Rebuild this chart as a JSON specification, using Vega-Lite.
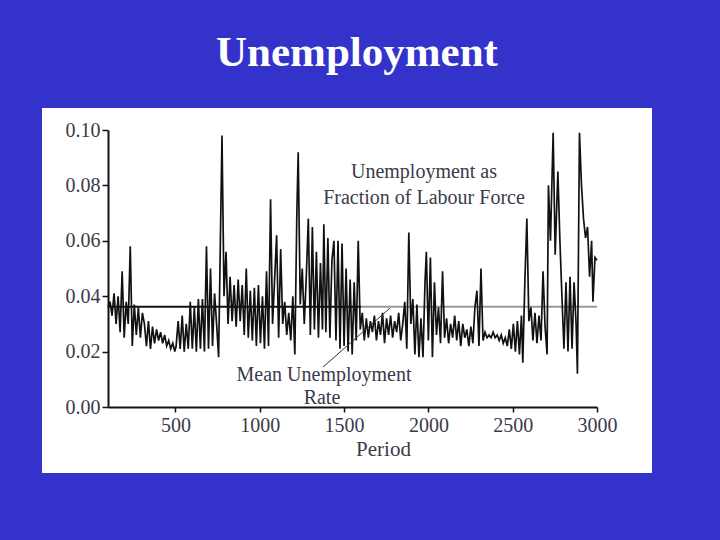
{
  "$schema": "https://vega.github.io/schema/vega-lite/v6.json",
  "width": 610,
  "height": 365,
  "autosize": {"type": "none"},
  "padding": {"left": 42, "top": 108, "right": 68, "bottom": 67},
  "background": "#3333cc",
  "title": {
    "text": "Unemployment",
    "font": "Liberation Serif",
    "fontSize": 43,
    "fontWeight": "bold",
    "color": "white",
    "anchor": "middle",
    "dx": 10,
    "offset": 33
  },
  "config": {
    "view": {"fill": "white", "stroke": null}
  },
  "datasets": {
    "series": [
      {"period":100,"value":0.036},{"period":112,"value":0.038},{"period":124,"value":0.033},{"period":136,"value":0.041},{"period":148,"value":0.030},{"period":160,"value":0.040},{"period":172,"value":0.027},{"period":184,"value":0.049},{"period":196,"value":0.025},{"period":208,"value":0.038},{"period":220,"value":0.030},{"period":232,"value":0.058},{"period":244,"value":0.022},{"period":256,"value":0.037},{"period":268,"value":0.026},{"period":280,"value":0.036},{"period":292,"value":0.025},{"period":304,"value":0.034},{"period":316,"value":0.030},{"period":328,"value":0.022},{"period":340,"value":0.031},{"period":352,"value":0.021},{"period":364,"value":0.029},{"period":376,"value":0.023},{"period":388,"value":0.028},{"period":400,"value":0.024},{"period":412,"value":0.027},{"period":424,"value":0.023},{"period":436,"value":0.026},{"period":448,"value":0.022},{"period":460,"value":0.024},{"period":472,"value":0.021},{"period":484,"value":0.023},{"period":496,"value":0.020},
      {"period":504,"value":0.022},{"period":516,"value":0.031},{"period":528,"value":0.021},{"period":540,"value":0.033},{"period":552,"value":0.020},{"period":564,"value":0.030},{"period":576,"value":0.021},{"period":588,"value":0.038},{"period":600,"value":0.021},{"period":612,"value":0.036},{"period":624,"value":0.020},{"period":636,"value":0.039},{"period":648,"value":0.021},{"period":660,"value":0.039},{"period":672,"value":0.020},{"period":684,"value":0.058},{"period":696,"value":0.021},{"period":708,"value":0.050},{"period":720,"value":0.022},{"period":732,"value":0.041},{"period":744,"value":0.030},{"period":756,"value":0.018},{"period":768,"value":0.066},{"period":776,"value":0.098},{"period":788,"value":0.040},{"period":800,"value":0.056},{"period":812,"value":0.030},{"period":824,"value":0.047},{"period":836,"value":0.031},{"period":848,"value":0.044},{"period":860,"value":0.029},{"period":872,"value":0.046},{"period":884,"value":0.031},{"period":896,"value":0.044},{"period":908,"value":0.026},{"period":920,"value":0.050},{"period":932,"value":0.025},
      {"period":944,"value":0.042},{"period":956,"value":0.024},{"period":968,"value":0.043},{"period":980,"value":0.022},{"period":992,"value":0.044},{"period":1004,"value":0.023},{"period":1016,"value":0.040},{"period":1028,"value":0.021},{"period":1040,"value":0.049},{"period":1052,"value":0.022},{"period":1064,"value":0.075},{"period":1076,"value":0.030},{"period":1088,"value":0.046},{"period":1100,"value":0.062},{"period":1112,"value":0.025},{"period":1124,"value":0.057},{"period":1136,"value":0.030},{"period":1148,"value":0.038},{"period":1160,"value":0.026},{"period":1172,"value":0.034},{"period":1184,"value":0.024},{"period":1196,"value":0.040},{"period":1208,"value":0.019},{"period":1220,"value":0.070},{"period":1228,"value":0.092},{"period":1240,"value":0.037},{"period":1252,"value":0.050},{"period":1264,"value":0.030},{"period":1276,"value":0.047},{"period":1288,"value":0.068},{"period":1300,"value":0.026},{"period":1312,"value":0.065},{"period":1324,"value":0.028},{"period":1336,"value":0.056},
      {"period":1348,"value":0.025},{"period":1360,"value":0.052},{"period":1372,"value":0.028},{"period":1380,"value":0.066},{"period":1392,"value":0.027},{"period":1404,"value":0.061},{"period":1416,"value":0.025},{"period":1428,"value":0.053},{"period":1440,"value":0.060},{"period":1452,"value":0.024},{"period":1464,"value":0.060},{"period":1476,"value":0.021},{"period":1488,"value":0.059},{"period":1500,"value":0.022},{"period":1512,"value":0.050},{"period":1524,"value":0.020},{"period":1536,"value":0.046},{"period":1548,"value":0.019},{"period":1560,"value":0.045},{"period":1572,"value":0.024},{"period":1584,"value":0.060},{"period":1596,"value":0.028},{"period":1608,"value":0.034},{"period":1620,"value":0.024},{"period":1632,"value":0.032},{"period":1644,"value":0.025},{"period":1656,"value":0.031},{"period":1668,"value":0.027},{"period":1680,"value":0.033},{"period":1692,"value":0.024},{"period":1704,"value":0.031},{"period":1716,"value":0.026},{"period":1728,"value":0.034},{"period":1740,"value":0.023},{"period":1752,"value":0.032},{"period":1764,"value":0.026},
      {"period":1776,"value":0.033},{"period":1788,"value":0.025},{"period":1800,"value":0.031},{"period":1812,"value":0.027},{"period":1824,"value":0.034},{"period":1836,"value":0.024},{"period":1848,"value":0.030},{"period":1860,"value":0.038},{"period":1872,"value":0.021},{"period":1884,"value":0.063},{"period":1896,"value":0.030},{"period":1908,"value":0.039},{"period":1920,"value":0.019},{"period":1932,"value":0.037},{"period":1944,"value":0.018},{"period":1956,"value":0.032},{"period":1968,"value":0.018},{"period":1980,"value":0.045},{"period":1988,"value":0.056},{"period":2000,"value":0.024},{"period":2012,"value":0.054},{"period":2024,"value":0.018},{"period":2036,"value":0.045},{"period":2048,"value":0.026},{"period":2060,"value":0.036},{"period":2072,"value":0.023},{"period":2084,"value":0.049},{"period":2096,"value":0.025},{"period":2108,"value":0.032},{"period":2120,"value":0.023},{"period":2132,"value":0.030},{"period":2144,"value":0.025},{"period":2156,"value":0.033},
      {"period":2168,"value":0.024},{"period":2180,"value":0.031},{"period":2192,"value":0.022},{"period":2204,"value":0.030},{"period":2216,"value":0.025},{"period":2228,"value":0.028},{"period":2240,"value":0.022},{"period":2252,"value":0.029},{"period":2264,"value":0.023},{"period":2276,"value":0.036},{"period":2288,"value":0.042},{"period":2300,"value":0.022},{"period":2312,"value":0.050},{"period":2324,"value":0.024},{"period":2336,"value":0.027},{"period":2348,"value":0.025},{"period":2360,"value":0.026},{"period":2372,"value":0.025},{"period":2384,"value":0.027},{"period":2396,"value":0.025},{"period":2408,"value":0.026},{"period":2420,"value":0.024},{"period":2432,"value":0.026},{"period":2444,"value":0.023},{"period":2456,"value":0.025},{"period":2468,"value":0.022},{"period":2480,"value":0.028},{"period":2492,"value":0.021},{"period":2504,"value":0.030},{"period":2516,"value":0.020},{"period":2528,"value":0.031},{"period":2540,"value":0.019},{"period":2552,"value":0.033},{"period":2560,"value":0.016},{"period":2572,"value":0.045},{"period":2584,"value":0.068},
      {"period":2596,"value":0.031},{"period":2608,"value":0.036},{"period":2620,"value":0.024},{"period":2632,"value":0.034},{"period":2644,"value":0.023},{"period":2656,"value":0.033},{"period":2668,"value":0.024},{"period":2680,"value":0.049},{"period":2692,"value":0.029},{"period":2704,"value":0.019},{"period":2712,"value":0.080},{"period":2724,"value":0.060},{"period":2740,"value":0.099},{"period":2752,"value":0.055},{"period":2768,"value":0.085},{"period":2780,"value":0.060},{"period":2792,"value":0.040},{"period":2804,"value":0.021},{"period":2816,"value":0.045},{"period":2828,"value":0.020},{"period":2840,"value":0.047},{"period":2852,"value":0.021},{"period":2864,"value":0.045},{"period":2876,"value":0.030},{"period":2884,"value":0.012},{"period":2896,"value":0.099},{"period":2908,"value":0.080},{"period":2920,"value":0.068},{"period":2932,"value":0.061},{"period":2944,"value":0.065},{"period":2956,"value":0.047},{"period":2968,"value":0.060},{"period":2976,"value":0.038},{"period":2988,"value":0.054},{"period":3000,"value":0.053}
    ],
    "mean": [
      {"period":100,"period2":1600,"value":0.0362,"part":"left"},
      {"period":1600,"period2":3000,"value":0.0362,"part":"right"}
    ],
    "leader": [
      {"period":1375,"value":0.0144,"period2":1772,"value2":0.0357}
    ],
    "notes": [
      {"period":1974,"value":0.0848,"label":"Unemployment as"},
      {"period":1974,"value":0.0755,"label":"Fraction of Labour Force"},
      {"period":1381,"value":0.01155,"label":"Mean Unemployment"},
      {"period":1369,"value":0.00325,"label":"Rate"}
    ]
  },
  "layer": [
    {
      "data": {"name": "mean"},
      "mark": {"type": "rule", "strokeWidth": 2},
      "encoding": {
        "x": {
          "field": "period", "type": "quantitative",
          "scale": {"domain": [100, 3000], "range": [66, 555], "nice": false, "zero": false},
          "axis": {
            "title": "Period", "values": [500, 1000, 1500, 2000, 2500, 3000], "format": "d", "offset": -66,
            "grid": false, "domainColor": "#111111", "domainWidth": 2, "tickColor": "#111111", "tickWidth": 1.5, "tickSize": 5,
            "labelFont": "Liberation Serif", "labelFontSize": 20, "labelColor": "#3a3a4a", "labelPadding": 3, "labelFlush": false,
            "titleFont": "Liberation Serif", "titleFontSize": 21, "titleFontWeight": "normal", "titleColor": "#3a3a4a", "titlePadding": 3, "titleX": 341
          }
        },
        "x2": {"field": "period2"},
        "y": {
          "field": "value", "type": "quantitative",
          "scale": {"domain": [0, 0.1], "range": [299, 22], "nice": false, "zero": false},
          "axis": {
            "title": null, "values": [0, 0.02, 0.04, 0.06, 0.08, 0.1], "format": ".2f", "offset": -66,
            "grid": false, "domainColor": "#111111", "domainWidth": 2, "tickColor": "#111111", "tickWidth": 1.5, "tickSize": 6,
            "labelFont": "Liberation Serif", "labelFontSize": 20, "labelColor": "#3a3a4a", "labelPadding": 2
          }
        },
        "color": {
          "field": "part", "type": "nominal",
          "scale": {"domain": ["left", "right"], "range": ["#111111", "#999999"]},
          "legend": null
        }
      }
    },
    {
      "data": {"name": "series"},
      "mark": {"type": "line", "color": "#111111", "strokeWidth": 1.7},
      "encoding": {
        "x": {"field": "period", "type": "quantitative"},
        "y": {"field": "value", "type": "quantitative"}
      }
    },
    {
      "data": {"name": "leader"},
      "mark": {"type": "rule", "color": "#333333", "strokeWidth": 1},
      "encoding": {
        "x": {"field": "period", "type": "quantitative"},
        "x2": {"field": "period2"},
        "y": {"field": "value", "type": "quantitative"},
        "y2": {"field": "value2"}
      }
    },
    {
      "data": {"name": "notes"},
      "mark": {"type": "text", "font": "Liberation Serif", "fontSize": 20, "color": "#3a3a4a", "align": "center", "baseline": "middle"},
      "encoding": {
        "x": {"field": "period", "type": "quantitative"},
        "y": {"field": "value", "type": "quantitative"},
        "text": {"field": "label"}
      }
    }
  ]
}
